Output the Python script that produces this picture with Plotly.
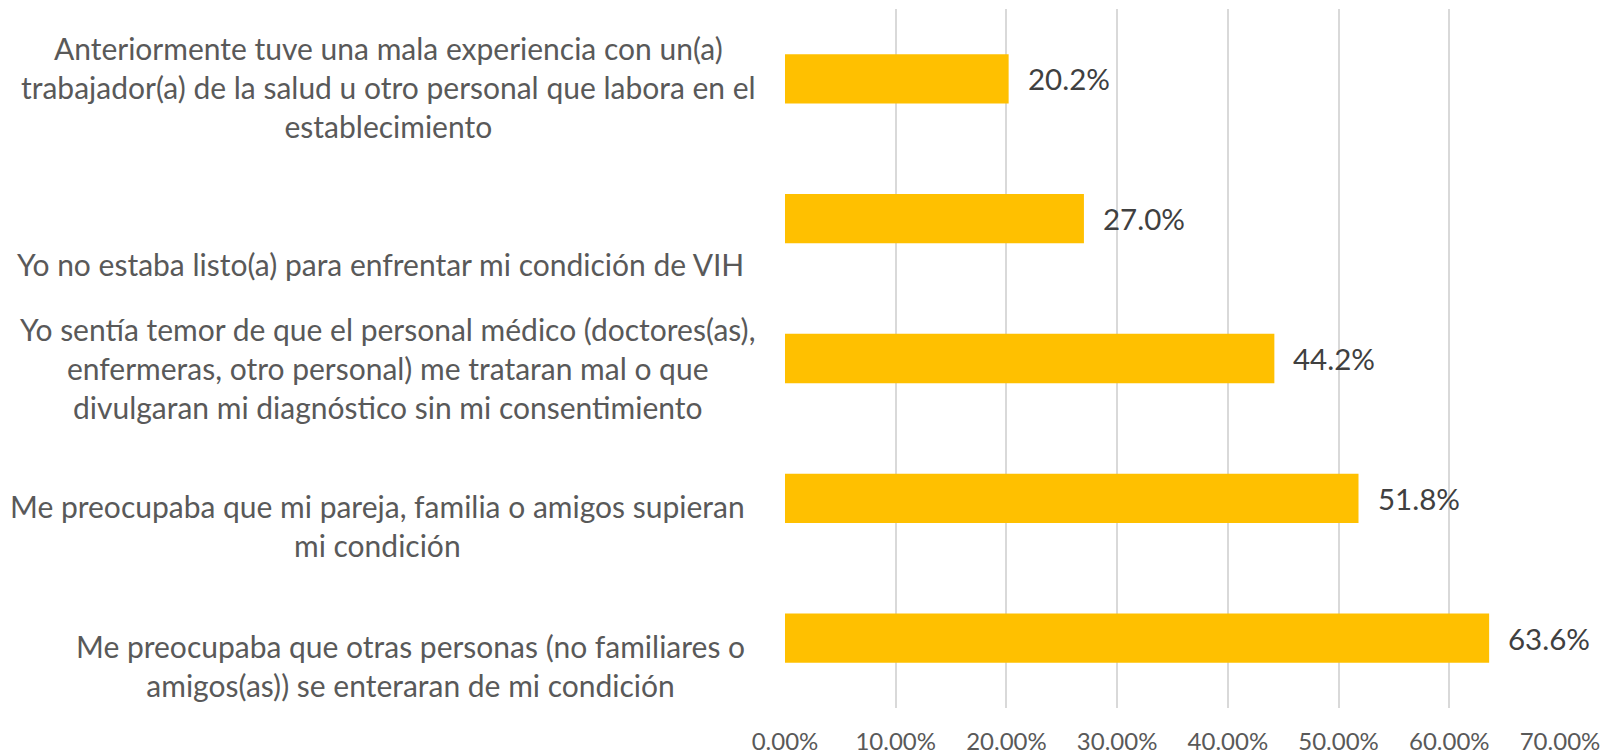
import plotly.graph_objects as go

# Data (bottom to top as drawn)
categories = [
    "Me preocupaba que otras personas (no familiares o<br>amigos(as)) se enteraran de mi condición",
    "Me preocupaba que mi pareja, familia o amigos supieran<br>mi condición",
    "Yo sentía temor de que el personal médico (doctores(as),<br>enfermeras, otro personal) me trataran mal o que<br>divulgaran mi diagnóstico sin mi consentimiento",
    "Yo no estaba listo(a) para enfrentar mi condición de VIH",
    "Anteriormente tuve una mala experiencia con un(a)<br>trabajador(a) de la salud u otro personal que labora en el<br>establecimiento",
]
values = [0.636, 0.518, 0.442, 0.270, 0.202]
tick_vals = [0, 0.1, 0.2, 0.3, 0.4, 0.5, 0.6, 0.7]
tick_text = ["0.00%", "10.00%", "20.00%", "30.00%", "40.00%", "50.00%", "60.00%", "70.00%"]

# layout-only offsets for category labels (pixels), mimicking the original placement
label_yshift = [-27, -27, -9, -45, -8]
label_right = [747, 747, 757, 746, 758]

FONT = "Lato"
W, H = 1606, 755
L, R, T, B = 785, 46, 9, 47

fig = go.Figure()
fig.add_trace(go.Bar(
    x=values, y=list(range(len(categories))), orientation="h",
    marker=dict(color="#FFC000", line=dict(width=0)),
    width=0.353, hoverinfo="skip",
))

annotations = []
for i, (cat, v) in enumerate(zip(categories, values)):
    annotations.append(dict(
        x=v, y=i, xref="x", yref="y", text=f"{v*100:.1f}%",
        showarrow=False, xanchor="left", yanchor="middle", xshift=17,
        font=dict(family=FONT, size=29.5, color="#404040"),
    ))
    annotations.append(dict(
        x=0, y=i, xref="paper", yref="y", text=cat,
        showarrow=False, xanchor="right", yanchor="middle", align="center",
        xshift=label_right[i] - L, yshift=label_yshift[i],
        font=dict(family=FONT, size=30, color="#595959"),
    ))

fig.update_layout(
    width=W, height=H,
    margin=dict(l=L, r=R, t=T, b=B, pad=0, autoexpand=False),
    paper_bgcolor="white", plot_bgcolor="white",
    showlegend=False,
    bargap=0.647,
    annotations=annotations,
    xaxis=dict(
        range=[0, 0.7], tickvals=tick_vals, ticktext=tick_text,
        showgrid=True, gridcolor="#D9D9D9", gridwidth=1.5,
        zeroline=False, showline=False, ticks="",
        tickfont=dict(family=FONT, size=24, color="#595959"),
        ticklabelstandoff=17, fixedrange=True, automargin=False,
    ),
    yaxis=dict(
        range=[-0.5, len(categories) - 0.5],
        showticklabels=False, showgrid=False, zeroline=False, showline=False,
        ticks="", fixedrange=True, automargin=False,
    ),
)

fig.write_html(
    "out.html",
    config={"displayModeBar": False},
    post_script="document.body.style.margin='0';document.body.style.overflow='hidden';",
)
